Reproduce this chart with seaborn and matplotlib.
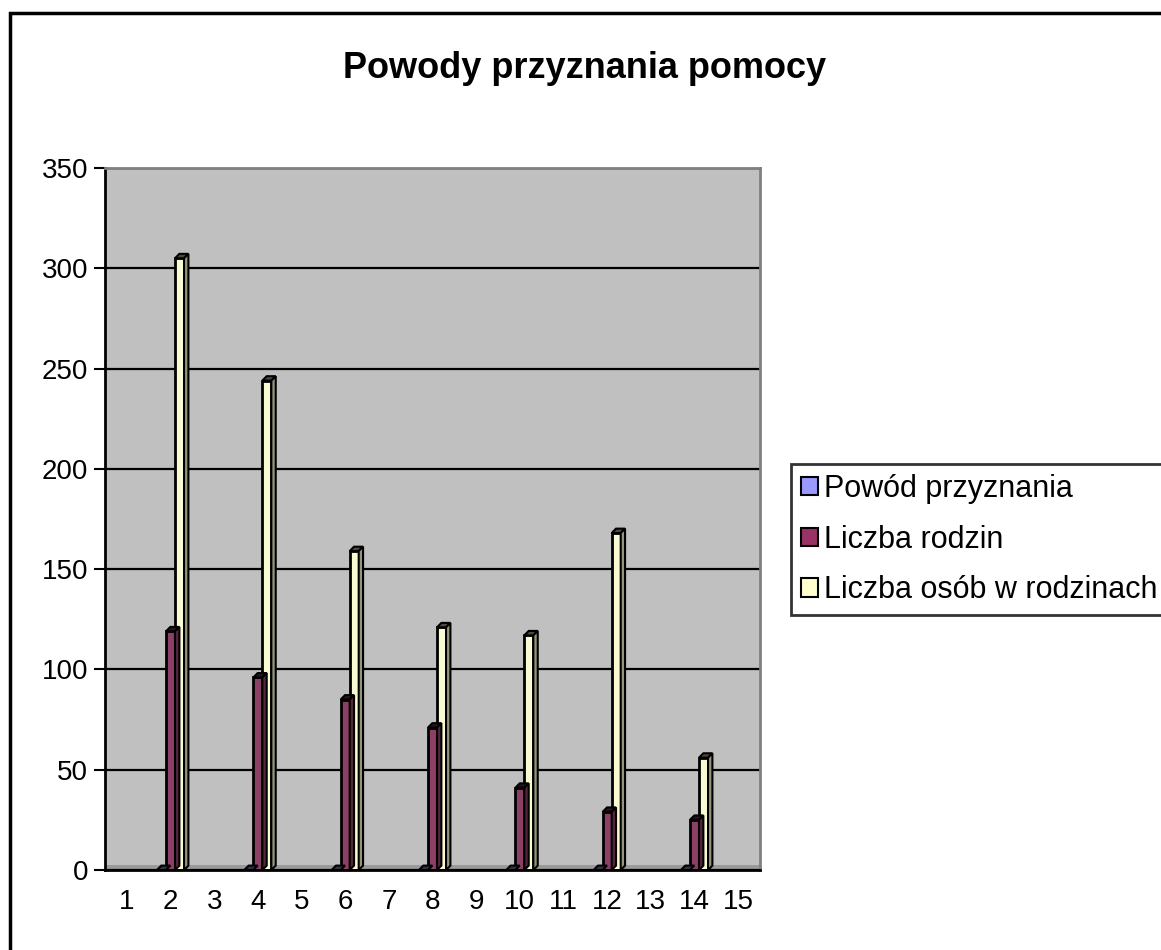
import numpy as np
import pandas as pd
import seaborn as sns
import matplotlib
matplotlib.use("Agg")
import matplotlib.pyplot as plt
from matplotlib.patches import Rectangle, Patch, Polygon
from matplotlib.ticker import MultipleLocator
import matplotlib.colors as mcolors

categories = [str(i) for i in range(1, 16)]
series = ["Powód przyznania", "Liczba rodzin", "Liczba osób w rodzinach"]
colors = ["#9999FF", "#993366", "#FFFFCC"]

nan = np.nan
powod = [nan, 0, nan, 0, nan, 0, nan, 0, nan, 0, nan, 0, nan, 0, nan]
rodziny = [nan, 119, nan, 96, nan, 85, nan, 71, nan, 41, nan, 29, nan, 25, nan]
osoby = [nan, 305, nan, 244, nan, 159, nan, 121, nan, 117, nan, 168, nan, 56, nan]

df = pd.DataFrame({
    "kategoria": categories * 3,
    "seria": [series[0]] * 15 + [series[1]] * 15 + [series[2]] * 15,
    "wartosc": powod + rodziny + osoby,
}).dropna()

sns.set_theme(style="white")
plt.rcParams["font.family"] = ["Liberation Sans", "DejaVu Sans"]
plt.rcParams["text.color"] = "black"
plt.rcParams["xtick.color"] = "black"
plt.rcParams["ytick.color"] = "black"

fig = plt.figure(figsize=(11.61, 9.5), dpi=100)
ax = fig.add_axes([105 / 1161, 1 - 870 / 950, 655 / 1161, 702 / 950])
ax.set_facecolor("#C0C0C0")

sns.barplot(data=df, x="kategoria", y="wartosc", hue="seria",
            order=categories, hue_order=series, palette=colors,
            width=0.62, edgecolor="black", linewidth=2, errorbar=None,
            legend=False, ax=ax)

ax.set_xlim(-0.5, 14.5)
ax.set_ylim(0, 350)

# fake depth: side and top face for each bar
dx, dy = 0.1, 2.2
for container in ax.containers:
    for bar in container:
        h = bar.get_height()
        if not np.isfinite(h):
            continue
        x0 = bar.get_x()
        x1 = x0 + bar.get_width()
        fc = np.array(mcolors.to_rgb(bar.get_facecolor()))
        top = Polygon([(x0, h), (x1, h), (x1 + dx, h + dy), (x0 + dx, h + dy)],
                      closed=True, facecolor=fc * 0.3, edgecolor="black",
                      linewidth=1.5, zorder=bar.get_zorder())
        ax.add_patch(top)
        if h <= 0:
            continue
        side = Polygon([(x1, 0), (x1, h), (x1 + dx, h + dy), (x1 + dx, dy)],
                       closed=True, facecolor=fc * 0.6, edgecolor="black",
                       linewidth=1.5, zorder=bar.get_zorder())
        ax.add_patch(side)

# floor of the 3D wall
ax.axhspan(0, 2.5, color="#9A9A9A", zorder=0.5, linewidth=0)

ax.yaxis.set_major_locator(MultipleLocator(50))
ax.grid(axis="y", color="black", linewidth=1.6)
ax.set_axisbelow(True)
ax.set_xlabel("")
ax.set_ylabel("")

ax.set_xticks(np.arange(-0.5, 15, 1), minor=True)
ax.tick_params(axis="x", which="major", length=0, labelsize=20, pad=14)
ax.tick_params(axis="x", which="minor", length=8, width=1.5, direction="out")
ax.tick_params(axis="y", which="major", length=8, width=1.5, direction="out",
               labelsize=20, pad=4, left=True)

for side in ["top", "right"]:
    ax.spines[side].set_color("#808080")
    ax.spines[side].set_linewidth(2)
for side in ["left", "bottom"]:
    ax.spines[side].set_color("black")
    ax.spines[side].set_linewidth(2)

handles = [Patch(facecolor=c, edgecolor="black", linewidth=1.5) for c in colors]
leg = fig.legend(handles, series, loc="upper left",
                 bbox_to_anchor=(791 / 1161, 1 - 464 / 950),
                 fontsize=22, frameon=True, fancybox=False,
                 handlelength=0.55, handleheight=0.55, handletextpad=0.2,
                 labelspacing=0.68, borderpad=0.32, borderaxespad=0)
leg.get_frame().set_edgecolor("black")
leg.get_frame().set_linewidth(2)
leg.get_frame().set_facecolor("white")
for t in leg.get_texts():
    t.set_color("black")

fig.text(585 / 1161, 1 - 68 / 950, "Powody przyznania pomocy",
         ha="center", va="center", fontsize=26, fontweight="bold")

fig.patches.append(Rectangle((10 / 1161, -0.1), 1.2, (950 - 13) / 950 + 0.1,
                             transform=fig.transFigure, fill=False,
                             edgecolor="black", linewidth=2.5, clip_on=False))

fig.savefig("out.png", dpi=100)
